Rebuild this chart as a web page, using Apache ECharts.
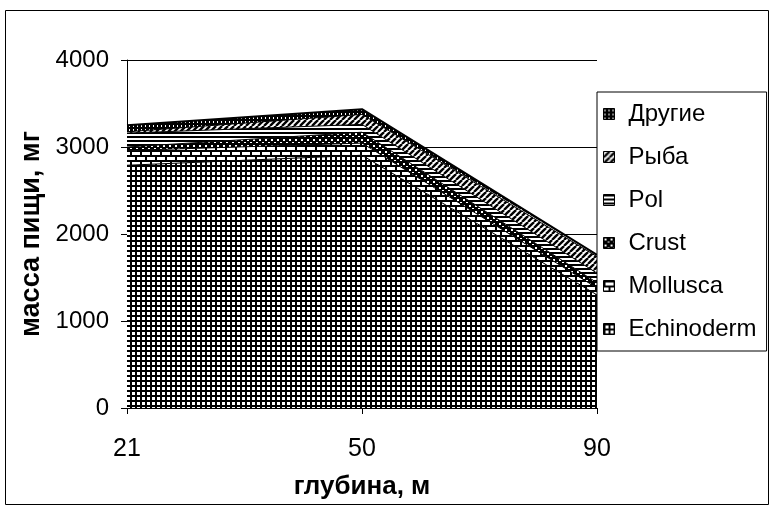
<!DOCTYPE html>
<html>
<head>
<meta charset="utf-8">
<script src="https://cdn.jsdelivr.net/npm/echarts@6/dist/echarts.min.js"></script>
<style>
  html, body { margin: 0; padding: 0; background: #fff; }
  #chart { width: 770px; height: 508px; }
</style>
</head>
<body>
<div id="chart"></div>
<script>
// Food mass by depth, stacked by prey group (mg)
const depths = ['21', '50', '90'];
const echinoderm = [2790, 2905, 1300];
const mollusca   = [170, 140, 80];
const crust      = [40, 125, 60];
const pol        = [160, 90, 110];
const ryba       = [15, 115, 190];
const drugie     = [75, 60, 20];
const legendOrder = ['Другие', 'Рыба', 'Pol', 'Crust', 'Mollusca', 'Echinoderm'];

// Small monochrome tiles used as repeating fills
function tile(w, h, draw) {
  const c = document.createElement('canvas');
  c.width = w; c.height = h;
  const g = c.getContext('2d');
  g.fillStyle = '#fff';
  g.fillRect(0, 0, w, h);
  g.fillStyle = '#000';
  g.strokeStyle = '#000';
  draw(g, w, h);
  return { image: c, repeat: 'repeat' };
}

const fills = {
  grid: tile(5, 5, g => { g.fillRect(0, 0, 5, 2); g.fillRect(0, 0, 2, 5); }),
  brick: tile(10, 10, g => {
    g.fillRect(0, 0, 10, 2); g.fillRect(0, 5, 10, 2);
    g.fillRect(0, 0, 2, 5); g.fillRect(5, 5, 2, 5);
  }),
  sponge: tile(6, 6, g => {
    g.fillRect(0, 0, 6, 6);
    g.fillStyle = '#fff';
    g.fillRect(1, 1, 2, 2); g.fillRect(4, 4, 2, 1);
  }),
  hlines: tile(4, 4, g => { g.fillRect(0, 0, 4, 2); }),
  diag: tile(6, 6, g => {
    g.lineWidth = 2.4;
    for (const k of [-6, 0, 6]) {
      g.beginPath(); g.moveTo(k, 6); g.lineTo(k + 6, 0); g.stroke();
    }
  }),
  dots: tile(4, 4, g => {
    g.fillRect(0, 0, 4, 4);
    g.fillStyle = '#fff';
    g.fillRect(1, 1, 1, 2);
  })
};

function layer(name, data, fill, lineWidth) {
  return {
    name: name,
    type: 'line',
    stack: 'total',
    data: data,
    symbol: 'none',
    silent: true,
    itemStyle: { color: fill, borderColor: '#000', borderWidth: 1 },
    lineStyle: { color: '#000', width: lineWidth || 1 },
    areaStyle: { color: fill, opacity: 1 },
    emphasis: { disabled: true }
  };
}

const chart = echarts.init(document.getElementById('chart'), null, { renderer: 'canvas' });
const font = '"Liberation Sans", Arial, sans-serif';

chart.setOption({
  animation: false,
  backgroundColor: '#fff',
  textStyle: { fontFamily: font, color: '#000' },
  graphic: [{
    type: 'rect',
    shape: { x: 5.5, y: 10.5, width: 763, height: 494 },
    style: { fill: 'none', stroke: '#000', lineWidth: 1 },
    silent: true
  }],
  grid: { left: 127, right: 173, top: 60, bottom: 100 },
  legend: {
    data: legendOrder,
    orient: 'vertical',
    left: 597,
    top: 92,
    icon: 'rect',
    itemWidth: 11,
    itemHeight: 11,
    itemGap: 19,
    padding: [10, 10, 10, 6],
    borderColor: '#000',
    borderWidth: 1,
    backgroundColor: '#fff',
    selectedMode: false,
    itemStyle: { borderColor: '#000', borderWidth: 1 },
    textStyle: { fontFamily: font, fontSize: 24, color: '#000', padding: [0, 0, 0, 9] }
  },
  xAxis: {
    type: 'category',
    data: depths,
    boundaryGap: false,
    name: 'глубина, м',
    nameLocation: 'middle',
    nameGap: 66,
    nameTextStyle: { fontFamily: font, fontSize: 26, fontWeight: 'bold', color: '#000' },
    axisLine: { lineStyle: { color: '#000', width: 1 } },
    axisTick: { show: true, length: 6, lineStyle: { color: '#000' } },
    axisLabel: { fontFamily: font, fontSize: 25, color: '#000', margin: 29 },
    splitLine: { show: false }
  },
  yAxis: {
    type: 'value',
    min: 0,
    max: 4000,
    interval: 1000,
    name: 'масса пищи, мг',
    nameLocation: 'middle',
    nameGap: 82,
    nameTextStyle: { fontFamily: font, fontSize: 27, fontWeight: 'bold', color: '#000' },
    axisLine: { show: true, lineStyle: { color: '#000', width: 1 } },
    axisTick: { show: true, length: 6, lineStyle: { color: '#000' } },
    axisLabel: { fontFamily: font, fontSize: 24, color: '#000', margin: 18, formatter: v => String(v) },
    splitLine: { show: true, lineStyle: { color: '#000', width: 1 } }
  },
  series: [
    layer('Echinoderm', echinoderm, fills.grid),
    layer('Mollusca', mollusca, fills.brick),
    layer('Crust', crust, fills.sponge),
    layer('Pol', pol, fills.hlines),
    layer('Рыба', ryba, fills.diag),
    layer('Другие', drugie, fills.dots, 2)
  ]
});
</script>
</body>
</html>
